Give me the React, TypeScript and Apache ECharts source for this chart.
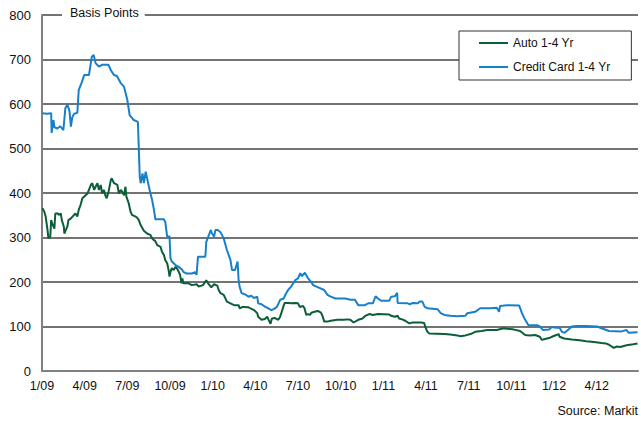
import React, { useEffect, useRef } from "react";
import * as echarts from "echarts";

const FONT = "'Liberation Sans', Arial, sans-serif";

const xTickLabels = ["1/09", "4/09", "7/09", "10/09", "1/10", "4/10", "7/10", "10/10", "1/11", "4/11", "7/11", "10/11", "1/12", "4/12"];
const yTicks = [0, 100, 200, 300, 400, 500, 600, 700, 800];

const seriesNames = ["Auto 1-4 Yr", "Credit Card 1-4 Yr"];

const autoDates = [
  "2009-01-02", "2009-01-06", "2009-01-09", "2009-01-13", "2009-01-15", "2009-01-19", "2009-01-21", "2009-01-23", "2009-01-28", "2009-01-30",
  "2009-02-04", "2009-02-06", "2009-02-10", "2009-02-12", "2009-02-16", "2009-02-17", "2009-02-20", "2009-02-23", "2009-02-25",
  "2009-03-02", "2009-03-09", "2009-03-12", "2009-03-16", "2009-03-19", "2009-03-23", "2009-03-27",
  "2009-04-03", "2009-04-07", "2009-04-10", "2009-04-14", "2009-04-17", "2009-04-21", "2009-04-24", "2009-04-28",
  "2009-05-01", "2009-05-05", "2009-05-08", "2009-05-12", "2009-05-15", "2009-05-18", "2009-05-22", "2009-05-27", "2009-05-29",
  "2009-06-03", "2009-06-10", "2009-06-13", "2009-06-17", "2009-06-20", "2009-06-24", "2009-06-27", "2009-06-29",
  "2009-07-04", "2009-07-08", "2009-07-11", "2009-07-19", "2009-07-22", "2009-07-26", "2009-07-30",
  "2009-08-06", "2009-08-13", "2009-08-20", "2009-08-24", "2009-08-28", "2009-08-31",
  "2009-09-04", "2009-09-11", "2009-09-14", "2009-09-18", "2009-09-21", "2009-09-25", "2009-09-28", "2009-09-30",
  "2009-10-02", "2009-10-05", "2009-10-09", "2009-10-13", "2009-10-16", "2009-10-20", "2009-10-23", "2009-10-26", "2009-10-28", "2009-10-30",
  "2009-11-10", "2009-11-17", "2009-11-27",
  "2009-12-01", "2009-12-11", "2009-12-18", "2009-12-22", "2009-12-28", "2009-12-30",
  "2010-01-04", "2010-01-11", "2010-01-14", "2010-01-18", "2010-01-25",
  "2010-02-01", "2010-02-08", "2010-02-15", "2010-02-24", "2010-02-26",
  "2010-03-05", "2010-03-17", "2010-03-29",
  "2010-04-05", "2010-04-07", "2010-04-14", "2010-04-21", "2010-04-26", "2010-04-28",
  "2010-05-03", "2010-05-06", "2010-05-13", "2010-05-20", "2010-05-24",
  "2010-06-01", "2010-06-03", "2010-06-10", "2010-06-17", "2010-06-24",
  "2010-07-01", "2010-07-05", "2010-07-12", "2010-07-15", "2010-07-19", "2010-07-23", "2010-07-27", "2010-07-30",
  "2010-08-06", "2010-08-13", "2010-08-20", "2010-08-24", "2010-08-27",
  "2010-09-03", "2010-09-10", "2010-09-24",
  "2010-10-08", "2010-10-15", "2010-10-22", "2010-10-29",
  "2010-11-08", "2010-11-17", "2010-11-23",
  "2010-12-02", "2010-12-09", "2010-12-20",
  "2011-01-14", "2011-01-18", "2011-01-26",
  "2011-02-01", "2011-02-04", "2011-02-10", "2011-02-16", "2011-02-24",
  "2011-03-03", "2011-03-21", "2011-03-28", "2011-03-30",
  "2011-04-04", "2011-04-08",
  "2011-05-10", "2011-05-23",
  "2011-06-07", "2011-06-13", "2011-06-24",
  "2011-07-05", "2011-07-15", "2011-07-29",
  "2011-08-10", "2011-08-31",
  "2011-09-15", "2011-09-22",
  "2011-10-07", "2011-10-20", "2011-10-31",
  "2011-11-10", "2011-11-21",
  "2011-12-01", "2011-12-05", "2011-12-12", "2011-12-21", "2011-12-30",
  "2012-01-06", "2012-01-11", "2012-01-13", "2012-01-23",
  "2012-02-08", "2012-02-24",
  "2012-03-09", "2012-03-26",
  "2012-04-11", "2012-04-20", "2012-04-27",
  "2012-05-07", "2012-05-14", "2012-05-21",
  "2012-06-04", "2012-06-18", "2012-06-27",
];
const autoValues = [
  366, 358, 347, 317, 298, 302, 339, 332, 320, 354,
  354, 351, 354, 339, 324, 309, 317, 325, 339,
  343, 351, 354, 347, 362, 373, 388,
  395, 399, 407, 418, 422, 407, 414, 422,
  407, 418, 399, 407, 395, 388, 403, 429, 433,
  422, 418, 399, 407, 403, 395, 414, 392,
  377, 358, 351, 347, 345, 339, 328,
  315, 309, 306, 298, 294, 292,
  283, 279, 268, 261, 249, 242, 227, 212,
  223, 231, 227, 234, 231, 223, 216, 197, 208, 197,
  197, 193, 195,
  190, 193, 204, 197, 189, 189,
  195, 192, 182, 175, 171,
  156, 152, 148, 148, 141,
  144, 143, 137,
  130, 122, 115, 117, 122, 117,
  106, 118, 119, 115, 122,
  148, 153, 153, 152, 153,
  152, 144, 146, 141, 126, 128, 126, 131,
  133, 135, 131, 122, 111,
  111, 113, 115,
  115, 116, 115, 109,
  115, 118, 124,
  128, 126, 128,
  127, 124, 122,
  124, 118, 116, 113, 107,
  109, 109, 108, 100,
  88, 84,
  83, 82,
  80, 78, 80,
  83, 88, 90,
  92, 92,
  96, 95,
  93, 90, 81,
  80, 81,
  77, 70, 72, 74, 78,
  81, 83, 77, 73,
  71, 69,
  67, 65,
  63, 62, 59,
  52, 55, 54,
  58, 60, 62,
];

const cardDates = [
  "2009-01-02", "2009-01-12", "2009-01-21", "2009-01-22", "2009-01-26", "2009-01-28",
  "2009-02-03", "2009-02-09", "2009-02-15", "2009-02-19", "2009-02-23", "2009-02-27",
  "2009-03-02", "2009-03-05", "2009-03-09", "2009-03-16", "2009-03-19", "2009-03-25", "2009-03-31",
  "2009-04-10", "2009-04-16", "2009-04-20", "2009-04-24",
  "2009-05-01", "2009-05-08", "2009-05-22", "2009-05-27",
  "2009-06-03", "2009-06-09", "2009-06-17", "2009-06-24",
  "2009-07-01", "2009-07-06", "2009-07-15", "2009-07-24", "2009-07-28", "2009-07-30",
  "2009-08-03", "2009-08-06", "2009-08-10", "2009-08-17", "2009-08-20", "2009-08-24", "2009-08-28", "2009-08-31",
  "2009-09-18", "2009-09-21", "2009-09-25", "2009-09-30",
  "2009-10-02", "2009-10-05", "2009-10-13", "2009-10-20", "2009-10-27", "2009-10-30",
  "2009-11-06", "2009-11-17", "2009-11-24", "2009-11-27", "2009-11-30",
  "2009-12-16", "2009-12-18", "2009-12-28", "2009-12-30",
  "2010-01-04", "2010-01-07", "2010-01-12", "2010-01-18", "2010-01-25",
  "2010-02-01", "2010-02-08", "2010-02-11", "2010-02-17", "2010-02-22", "2010-02-24", "2010-02-26",
  "2010-03-02", "2010-03-10", "2010-03-17", "2010-03-23", "2010-03-29",
  "2010-04-05", "2010-04-07", "2010-04-14", "2010-04-22", "2010-04-28",
  "2010-05-05", "2010-05-10", "2010-05-17", "2010-05-24",
  "2010-06-01", "2010-06-04", "2010-06-10", "2010-06-16", "2010-06-25",
  "2010-07-01", "2010-07-06", "2010-07-09", "2010-07-16", "2010-07-23", "2010-07-29",
  "2010-08-03", "2010-08-09", "2010-08-27",
  "2010-09-03", "2010-09-10", "2010-09-20",
  "2010-10-11", "2010-10-22",
  "2010-11-01", "2010-11-08", "2010-11-22", "2010-11-29",
  "2010-12-09", "2010-12-15", "2010-12-20", "2010-12-27",
  "2011-01-14", "2011-01-18", "2011-01-26", "2011-01-31",
  "2011-02-01", "2011-02-21", "2011-02-25",
  "2011-03-03", "2011-03-14", "2011-03-18", "2011-03-24", "2011-03-29",
  "2011-04-04", "2011-04-25",
  "2011-05-02", "2011-05-10", "2011-05-23",
  "2011-06-07", "2011-06-24", "2011-06-28",
  "2011-07-15", "2011-07-26",
  "2011-08-17", "2011-08-31",
  "2011-09-05", "2011-09-07", "2011-09-22",
  "2011-10-18", "2011-10-24", "2011-10-31",
  "2011-11-07", "2011-11-25",
  "2011-12-01", "2011-12-08", "2011-12-21", "2011-12-27",
  "2012-01-06", "2012-01-13", "2012-01-18", "2012-01-24",
  "2012-02-02", "2012-02-08", "2012-02-17",
  "2012-03-09",
  "2012-04-02", "2012-04-11", "2012-04-27",
  "2012-05-24",
  "2012-06-04", "2012-06-08", "2012-06-27",
];
const cardValues = [
  579, 578, 579, 535, 564, 548,
  545, 550, 541, 591, 598, 585,
  549, 570, 578, 580, 631, 647, 665,
  665, 706, 710, 692,
  684, 688, 688, 676,
  665, 663, 647, 639,
  609, 575, 564, 560, 437, 422,
  444, 422, 448, 414, 400, 384, 362, 341,
  341, 335, 302, 302,
  253, 246, 238, 234, 228, 223,
  219, 219, 222, 216, 257,
  257, 290, 317, 310,
  302, 317, 317, 312, 298,
  272, 249, 227, 227, 246, 204, 189,
  175, 172, 167, 169, 164,
  167, 152, 150, 144, 141,
  137, 139, 144, 160,
  163, 171, 182, 189, 204,
  208, 220, 213, 221, 208, 201,
  193, 190, 182,
  171, 167, 163,
  163, 160,
  160, 148, 148, 152,
  152, 168, 163, 158,
  158, 167, 168, 176,
  153, 152, 150,
  153, 152, 156, 156, 144,
  141, 139,
  130, 126, 124,
  123, 124, 130,
  133, 141,
  141, 142,
  133, 146, 148,
  147, 130, 115,
  103, 103,
  100, 92, 93, 99,
  97, 97, 88, 86,
  94, 100, 101,
  101,
  100, 96, 90,
  89,
  92, 86, 87,
];

// fractional months since Jan 2009 (axis unit)
function toMonth(d: string): number {
  const [y, m, dd] = d.split("-").map(Number);
  const dim = new Date(y, m, 0).getDate();
  return (y - 2009) * 12 + (m - 1) + (dd - 1) / dim;
}

export default function App() {
  const ref = useRef<HTMLDivElement>(null);
  useEffect(() => {
    if (!ref.current) return;
    const chart = echarts.init(ref.current, undefined, { renderer: "svg" });
    const green = "#0b5e38";
    const blue = "#1680cb";
    chart.setOption({
      animation: false,
      textStyle: { fontFamily: FONT },
      grid: { left: 42, right: 0, top: 15, bottom: 52 },
      legend: {
        data: seriesNames,
        orient: "vertical",
        left: 459,
        top: 31,
        padding: [5, 21, 6, 20],
        itemGap: 10,
        icon: "rect",
        itemWidth: 29,
        itemHeight: 2,
        borderColor: "#333",
        borderWidth: 1,
        backgroundColor: "#fff",
        textStyle: { fontSize: 12, color: "#111", fontFamily: FONT, lineHeight: 14 },
      },
      xAxis: {
        type: "value",
        min: 0,
        max: 41.9,
        interval: 3,
        axisLine: { lineStyle: { color: "#808080", width: 2 } },
        axisTick: { show: false },
        splitLine: { show: false },
        axisLabel: {
          margin: 8,
          fontSize: 12.5,
          color: "#111",
          fontFamily: FONT,
          formatter: (v: number) => {
            const i = Math.round(v / 3);
            return Math.abs(v / 3 - i) < 1e-6 && xTickLabels[i] ? xTickLabels[i] : "";
          },
        },
      },
      yAxis: {
        type: "value",
        min: yTicks[0],
        max: yTicks[yTicks.length - 1],
        interval: 100,
        axisLine: { show: true, lineStyle: { color: "#808080", width: 2 } },
        axisTick: { show: false },
        splitLine: { lineStyle: { color: "#444", width: 1.5 } },
        axisLabel: { margin: 11, fontSize: 13, color: "#111", fontFamily: FONT },
      },
      graphic: [
        {
          type: "text",
          left: 62,
          top: 5,
          z: 100,
          style: {
            text: "Basis Points",
            fontSize: 12.5,
            fontFamily: FONT,
            fill: "#111",
            backgroundColor: "#fff",
            padding: [1, 6, 1, 8],
          },
        },
        {
          type: "text",
          right: 3,
          top: 404,
          z: 100,
          style: {
            text: "Source: Markit",
            fontSize: 12.5,
            fontFamily: FONT,
            fill: "#111",
          },
        },
      ],
      series: [
        {
          name: seriesNames[0],
          type: "line",
          symbol: "none",
          data: autoDates.map((d, i) => [toMonth(d), autoValues[i]]),
          lineStyle: { color: green, width: 2 },
          itemStyle: { color: green },
        },
        {
          name: seriesNames[1],
          type: "line",
          symbol: "none",
          data: cardDates.map((d, i) => [toMonth(d), cardValues[i]]),
          lineStyle: { color: blue, width: 2 },
          itemStyle: { color: blue },
        },
      ],
    });
    return () => chart.dispose();
  }, []);
  return (
    <div
      ref={ref}
      style={{ position: "absolute", left: 0, top: 0, width: 641, height: 423, background: "#fff" }}
    />
  );
}
